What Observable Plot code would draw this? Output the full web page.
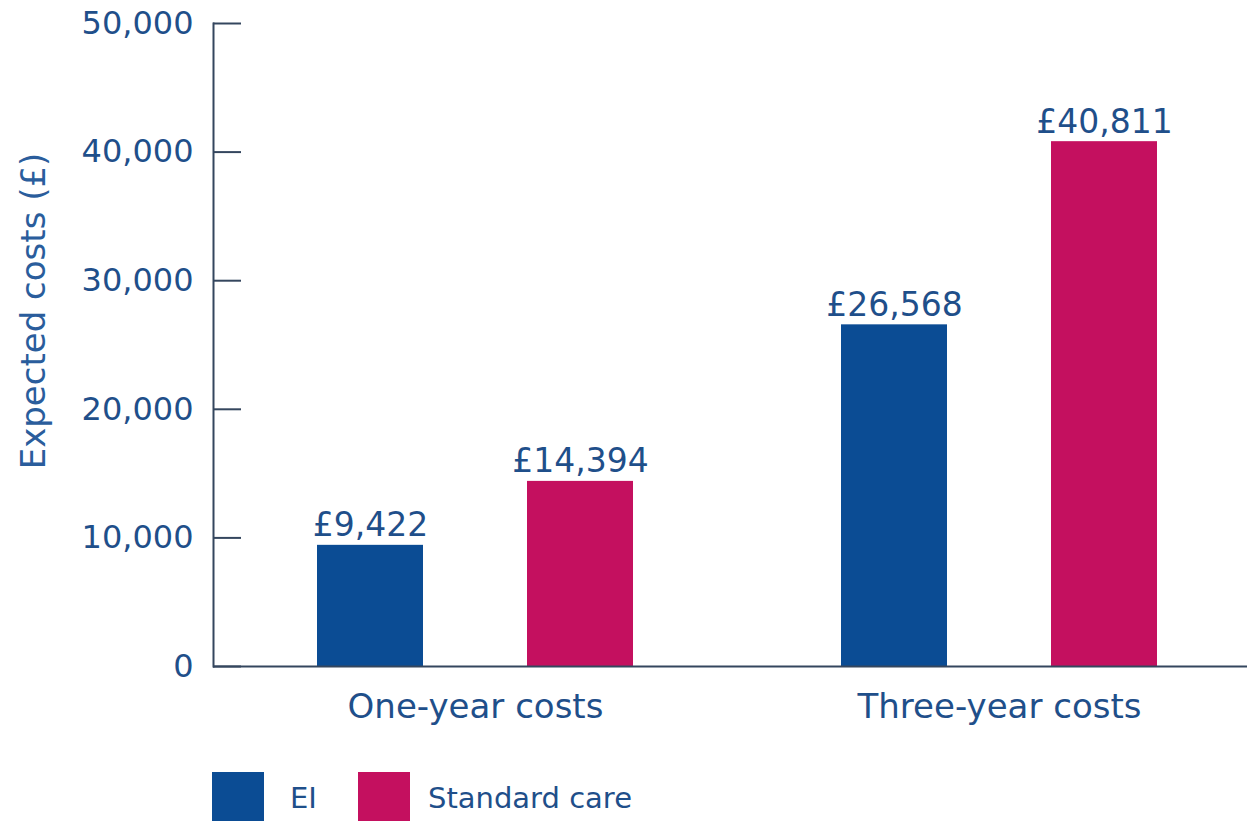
<!DOCTYPE html>
<html>
<head>
<meta charset="utf-8">
<script src="https://cdn.jsdelivr.net/npm/d3@7"></script>
<script src="https://cdn.jsdelivr.net/npm/@observablehq/plot@0.6"></script>
<style>
  html, body { margin: 0; padding: 0; background: #fff; overflow: hidden; }
  body { font-family: "DejaVu Sans", Verdana, sans-serif; width: 1247px; }
  #chart { width: 1247px; height: 760px; overflow: hidden; }
  #chart svg { max-width: none !important; display: block; }
  #legend { position: relative; height: 61px; font-family: "DejaVu Sans", sans-serif; font-size: 29px; color: #1f4f8a; }
  #legend .sw { position: absolute; top: 12px; width: 52px; height: 52px; }
  #legend .lb { position: absolute; top: 20px; line-height: 36px; }
</style>
</head>
<body>
<div id="chart"></div>
<div id="legend"></div>
<script>
const groups = ["One-year costs", "Three-year costs"];
const series = ["EI", "Standard care"];
const eiValues = [9422, 26568];
const standardCareValues = [14394, 40811];
const yTicks = [0, 10000, 20000, 30000, 40000, 50000];
const yTitle = "Expected costs (£)";
const colors = ["#0b4c94", "#c4105f"];

const data = [];
groups.forEach((g, i) => {
  data.push({group: g, series: series[0], value: eiValues[i]});
  data.push({group: g, series: series[1], value: standardCareValues[i]});
});

const textColor = "#1f4f8a";
const axisColor = "#34465e";

const chart = Plot.plot({
  width: 1261,
  height: 760,
  marginLeft: 213,
  marginRight: 0,
  marginTop: 23,
  marginBottom: 94,
  style: {fontFamily: "DejaVu Sans, sans-serif", background: "#fff"},
  fx: {domain: groups, paddingInner: 0, paddingOuter: 0, label: null},
  x: {domain: series, paddingInner: 0.496, paddingOuter: 0.493, axis: null},
  y: {domain: [0, 50000], label: null},
  color: {domain: series, range: colors},
  marks: [
    Plot.barY(data, {fx: "group", x: "series", y: "value", fill: "series"}),
    Plot.ruleY([0], {stroke: axisColor, strokeWidth: 2}),
    Plot.frame({anchor: "left", facetAnchor: "left", stroke: axisColor, strokeWidth: 2}),
    Plot.axisY({ticks: yTicks, tickSize: -28, text: null, stroke: axisColor, strokeWidth: 2}),
    Plot.axisY({ticks: yTicks, tickSize: 0, tickPadding: 20, tickFormat: d3.format(","), fontSize: 32, fill: textColor, label: null}),
    Plot.axisFx({anchor: "bottom", tickSize: 0, tickPadding: 27, fontSize: 34, fill: textColor, label: null}),
    Plot.text(data, {fx: "group", x: "series", y: "value", text: d => "£" + d3.format(",")(d.value), dy: -9, lineAnchor: "bottom", fontSize: 33, fill: textColor}),
    Plot.text([yTitle], {fx: [groups[0]], text: d => d, frameAnchor: "left", textAnchor: "middle", rotate: -90, lineAnchor: "top", dx: -193, dy: -34, fontSize: 34, fill: "#2a5d9c"})
  ]
});
document.getElementById("chart").appendChild(chart);

const legend = document.getElementById("legend");
const swX = [212, 358];
const lbX = [290, 428];
series.forEach((s, i) => {
  const sw = document.createElement("div");
  sw.className = "sw";
  sw.style.left = swX[i] + "px";
  sw.style.background = colors[i];
  legend.appendChild(sw);
  const lb = document.createElement("div");
  lb.className = "lb";
  lb.style.left = lbX[i] + "px";
  lb.textContent = s;
  legend.appendChild(lb);
});
</script>
</body>
</html>
